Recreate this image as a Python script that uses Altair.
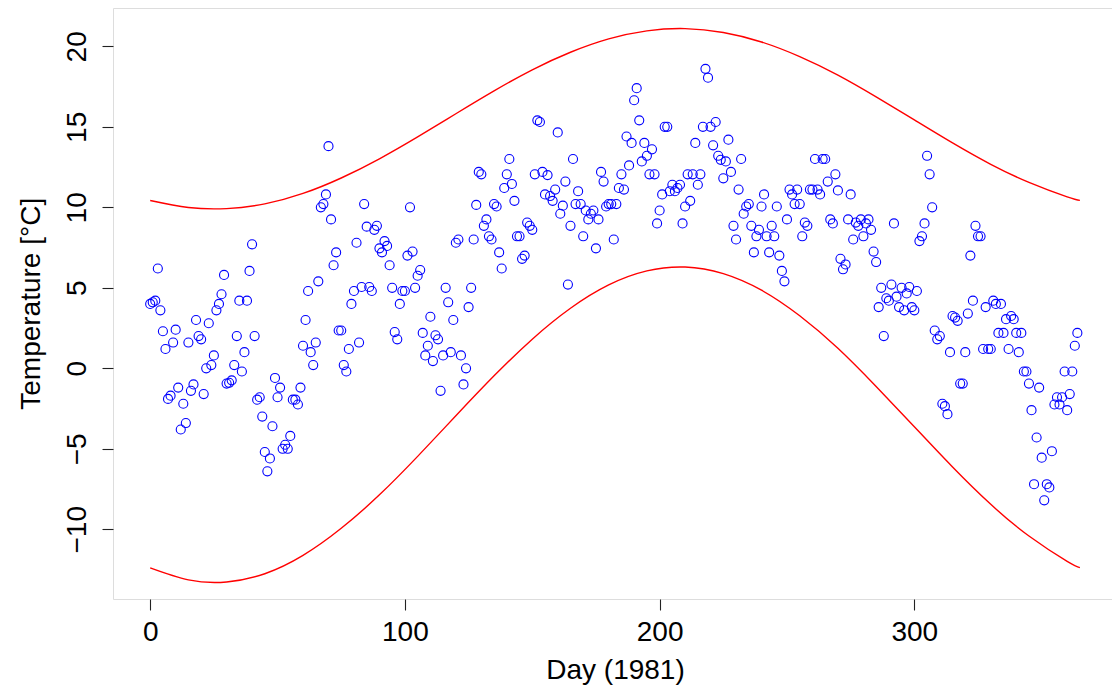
import altair as alt
import pandas as pd

# Daily temperatures (days 0..364, in order)
temp_a = [4.0, 4.1, 4.2, 6.2, 3.6, 2.3, 1.2, -1.9, -1.7, 1.6,
          2.4, -1.2, -3.8, -2.2, -3.4, 1.6, -1.4, -1.0, 3.0, 2.0,
          1.8, -1.6, 0.0, 2.8, 0.2, 0.8, 3.6, 4.0, 4.6, 5.8,
          -0.95, -0.9, -0.75, 0.2, 2.0, 4.2, -0.2, 1.0, 4.2, 6.05,
          7.7, 2.0, -1.95, -1.8, -3.0, -5.2, -6.4]
temp_b = [-5.6, -3.6, -0.6, -1.8, -1.2, -5.0, -4.75, -5.0, -4.2, -1.95,
          -1.95, -2.25, -1.2, 1.4, 3.0, 4.8, 1.0, 0.2, 1.6, 5.4,
          10.0, 10.2, 10.8, 13.8, 9.25, 6.4, 7.2, 2.35, 2.35, 0.2,
          -0.2, 1.2, 4.0, 4.8, 7.8, 1.6, 5.05, 10.2, 8.8, 5.05,
          4.8, 8.6, 8.85, 7.45, 7.2]
temp_c = [7.9, 7.6, 6.4, 5.0, 2.25, 1.8, 4.0, 4.8, 4.8, 7.0,
          10.0, 7.25, 5.0, 5.75, 6.1, 2.2, 0.8, 1.4, 3.2, 0.45,
          2.05, 1.8, -1.4, 0.8, 5.0, 4.1, 1.0, 3.0, 7.8, 8.0,
          0.8, -1.0, 0.0, 3.8, 5.0, 8.0, 10.15, 12.2, 12.05, 8.85,
          9.25, 8.2, 8.0, 10.2, 10.05]
temp_d = [7.2, 6.2, 11.2, 12.05, 13.0, 11.45, 10.4, 8.2, 8.2, 6.8,
          7.0, 9.05, 8.85, 8.6, 12.05, 15.4, 15.3, 12.2, 10.8, 12.0,
          10.7, 10.4, 11.1, 14.65, 9.6, 10.1, 11.6, 5.2, 8.85, 13.0,
          10.2, 11.0, 10.2, 8.2, 9.8, 9.25, 9.6, 9.8, 7.45, 9.25,
          12.2, 11.6, 10.05, 10.2, 10.2, 8.0, 10.2, 11.2, 12.05, 11.1]
temp_e = [14.4, 12.6, 14.0, 16.65, 17.4, 15.4, 12.85, 14.0, 13.2, 12.05,
          13.6, 12.05, 9.0, 9.8, 10.8, 15.0, 15.0, 11.0, 11.4, 11.0,
          11.2, 11.4, 9.0, 10.05, 12.05, 10.4, 12.05, 14.0, 11.4, 12.05,
          15.0, 18.6, 18.05, 15.0, 13.85, 15.3, 13.2, 12.95, 11.8, 12.85,
          14.2, 12.2, 8.85, 8.0, 11.1, 13.0]
temp_f = [9.6, 10.05, 10.2, 8.85, 7.2, 8.2, 8.6, 10.05, 10.8, 8.2,
          7.2, 8.85, 8.2, 10.05, 7.0, 6.05, 5.4, 9.25, 11.1, 10.8,
          10.2, 11.1, 10.2, 8.2, 9.05, 8.85, 11.1, 11.1, 13.0, 11.1,
          10.8, 13.0, 13.0, 11.6, 9.25, 9.0, 12.05, 11.05, 6.8, 6.15,
          6.45, 9.25, 10.8, 8.0, 9.05, 8.85]
temp_g = [9.25, 8.2, 9.0, 9.25, 8.6, 7.25, 6.6, 3.8, 5.0,
          2.0, 4.35, 4.2, 5.2, 9.0, 4.45, 3.8, 5.0, 3.6, 4.65,
          5.05, 3.8, 3.6, 4.8, 7.9, 8.2, 9.0, 13.2, 12.05, 10.0,
          2.35, 1.8, 2.0, -2.2, -2.35, -2.85, 1.0, 3.25, 3.15, 2.95,
          -0.95, -0.95, 1.0, 3.4, 7.0, 4.2, 8.85, 8.2, 8.2, 1.2,
          3.8, 1.2, 1.2, 4.2, 4.0, 2.2, 4.0, 2.2, 3.05, 1.2,
          3.25, 3.05, 2.2, 1.0, 2.2, -0.2, -0.2, -0.95, -2.6, -7.2,
          -4.3, -1.2, -5.55, -8.2, -7.2, -7.4, -5.15, -2.25, -1.8, -2.25,
          -1.8, -0.2, -2.6, -1.6, -0.2, 1.4, 2.2]

# Envelope curves at sample days
curve_days = [0, 15, 30, 45, 60, 75, 90, 105, 120, 135, 150, 165, 180,
              195, 210, 225, 240, 255, 270, 285, 300, 315, 330, 345, 360, 365]
upper_vals = [10.42, 9.99, 9.92, 10.21, 10.86, 11.82, 13.01, 14.37, 15.81,
              17.23, 18.54, 19.63, 20.46, 20.96, 21.1, 20.86, 20.27, 19.36,
              18.21, 16.86, 15.43, 14.0, 12.67, 11.55, 10.65, 10.43]
lower_vals = [-12.40, -13.14, -13.27, -12.76, -11.62, -9.94, -7.86, -5.47,
              -2.95, -0.47, 1.81, 3.73, 5.18, 6.05, 6.29, 5.88, 4.85, 3.26,
              1.24, -1.13, -3.63, -6.13, -8.45, -10.42, -11.99, -12.38]

x_ticks = [0, 100, 200, 300]
y_ticks = [-10, -5, 0, 5, 10, 15, 20]

temps = temp_a + temp_b + temp_c + temp_d + temp_e + temp_f + temp_g
pts = pd.DataFrame({"day": list(range(len(temps))), "temp": temps})
curves = pd.DataFrame({"day": curve_days, "upper": upper_vals, "lower": lower_vals})

FONT = "Liberation Sans"
FS = 28
xscale = alt.Scale(domain=[-14.6, 377.6], nice=False, zero=False)
yscale = alt.Scale(domain=[-14.33, 22.38], nice=False, zero=False)

xaxis = alt.Axis(values=x_ticks, title="Day (1981)", grid=False, domain=False,
                 tickSize=11, tickColor="#222", tickWidth=1.1,
                 labelFont=FONT, labelFontSize=FS, labelColor="black",
                 labelBaseline="alphabetic", labelPadding=30.5, labelFlush=False,
                 titleFont=FONT, titleFontSize=FS, titleFontWeight="normal",
                 titleColor="black", titleBaseline="alphabetic",
                 titleX=502, titleY=79.5, titleAlign="center")
yaxis = alt.Axis(values=y_ticks, title="Temperature [°C]", grid=False, domain=False,
                 tickSize=11, tickColor="#222", tickWidth=1.1,
                 labelFont=FONT, labelFontSize=FS, labelColor="black",
                 labelAngle=-90, labelAlign="center", labelBaseline="alphabetic",
                 labelPadding=16.3, labelFlush=False,
                 titleFont=FONT, titleFontSize=FS, titleFontWeight="normal",
                 titleColor="black", titleAngle=-90, titleBaseline="alphabetic",
                 titleAlign="center", titleX=-73.3, titleY=295.3)

points = alt.Chart(pts).mark_point(
    shape="circle", filled=False, color="#0000ff", size=82, strokeWidth=1.1, opacity=1
).encode(
    x=alt.X("day:Q", scale=xscale, axis=xaxis),
    y=alt.Y("temp:Q", scale=yscale, axis=yaxis),
)

upper = alt.Chart(curves).mark_line(color="#ff0000", strokeWidth=1.4, interpolate="natural").encode(
    x=alt.X("day:Q", scale=xscale),
    y=alt.Y("upper:Q", scale=yscale),
)
lower = alt.Chart(curves).mark_line(color="#ff0000", strokeWidth=1.4, interpolate="natural").encode(
    x=alt.X("day:Q", scale=xscale),
    y=alt.Y("lower:Q", scale=yscale),
)

chart = alt.layer(upper, lower, points).properties(
    width=999, height=591,
    autosize=alt.AutoSizeParams(type="none"),
    padding={"left": 105, "top": 0, "right": 0, "bottom": 86},
).configure_view(stroke="#222", strokeWidth=1.2).configure(background="white")

chart.save("out.html", embed_options={"renderer": "svg", "actions": False})
